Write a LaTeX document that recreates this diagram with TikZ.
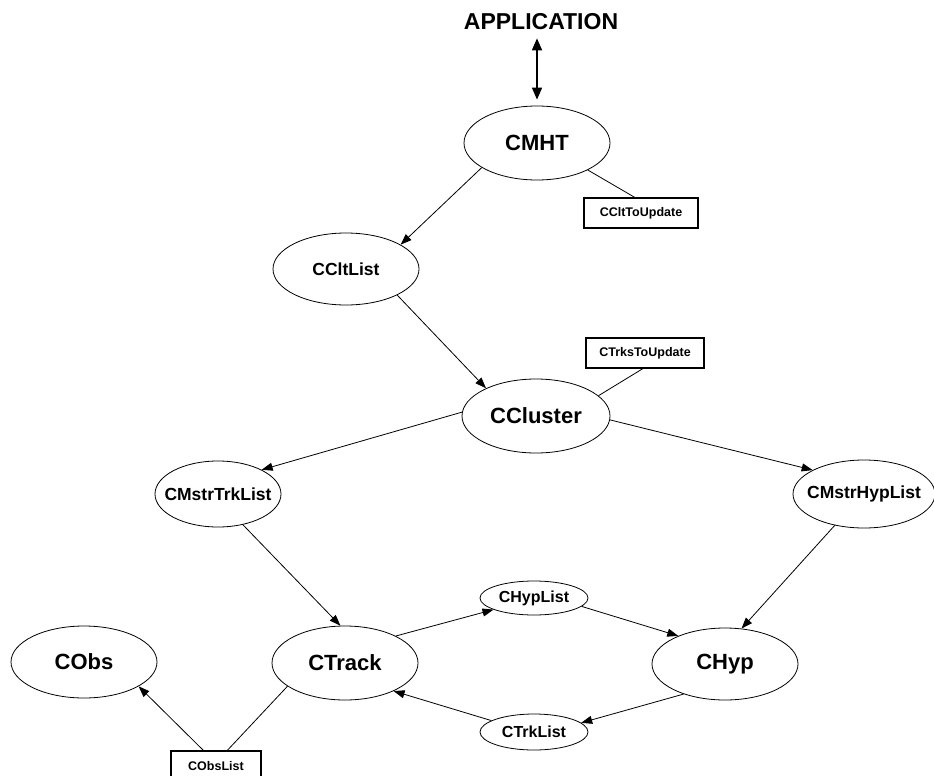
\documentclass[tikz,border=0pt]{standalone}
\usepackage{fontspec}
\setmainfont{Liberation Sans}
\usetikzlibrary{shapes.geometric,arrows.meta}
\tikzset{
  ell/.style={ellipse,draw,line width=0.8pt,inner sep=0pt,font=\bfseries},
  big/.style={ell,minimum width=146pt,minimum height=74pt,font=\bfseries\fontsize{22}{26}\selectfont},
  mid/.style={ell,font=\bfseries\fontsize{17.5}{21}\selectfont},
  small/.style={ell,minimum width=108pt,minimum height=34pt,font=\bfseries\fontsize{16}{20}\selectfont},
  tag/.style={draw,line width=1.3pt,inner sep=0pt,minimum height=30pt,font=\bfseries\fontsize{12.5}{15}\selectfont},
  conn/.style={line width=0.8pt},
  arr/.style={conn,-{Triangle[length=11pt,width=8pt]}}
}
\begin{document}
\begin{tikzpicture}[x=1pt,y=-1pt]
\useasboundingbox (0,0) rectangle (934,776);
\node[inner sep=0pt,font=\bfseries\fontsize{23}{27}\selectfont] (APP) at (541,22) {APPLICATION};
\node[big] (CMHT) at (537,143) {CMHT};
\node[tag,minimum width=114pt] (CCltToUpdate) at (641,213) {CCltToUpdate};
\node[mid,minimum width=146pt,minimum height=72pt] (CCltList) at (346,269) {CCltList};
\node[tag,minimum width=118pt] (CTrksToUpdate) at (645,353) {CTrksToUpdate};
\node[big,minimum width=148pt] (CCluster) at (536,416) {CCluster};
\node[mid,minimum width=126pt,minimum height=66pt] (CMstrTrkList) at (218,494) {\makebox[0pt]{CMstrTrkList}};
\node[mid,minimum width=142pt,minimum height=68pt] (CMstrHypList) at (864,494) {\makebox[0pt]{CMstrHypList}};
\node[small] (CHypList) at (534,598) {CHypList};
\node[big] (CTrack) at (345,663) {CTrack};
\node[big,minimum height=72pt] (CHyp) at (725,664) {CHyp};
\node[small,minimum height=36pt] (CTrkList) at (534,732) {CTrkList};
\node[big,minimum height=72pt] (CObs) at (84,662) {CObs};
\node[tag,minimum width=90pt] (CObsList) at (216,766) {CObsList};

\draw[line width=1.6pt,{Triangle[length=12pt,width=10pt]}-{Triangle[length=12pt,width=10pt]}]
  ([yshift=-8pt]CMHT.north |- APP.south) -- ([yshift=6pt]CMHT.north);
\draw[arr] (CMHT.204) -- (CCltList.24);
\draw[conn] (CMHT.332) -- (CCltToUpdate.112);
\draw[arr] (CCltList.333) -- (CCluster.151);
\draw[conn] (CTrksToUpdate.262) -- (CCluster.18);
\draw[arr] (CCluster.177) -- (CMstrTrkList.29);
\draw[arr] (CCluster.357) -- (CMstrHypList.155);
\draw[arr] (CMstrTrkList.309) -- (CTrack.97);
\draw[arr] (CMstrHypList.227) -- (CHyp.65);
\draw[arr] (CTrack.28) -- (CHypList.196);
\draw[arr] (CHypList.350) -- (CHyp.149);
\draw[arr] (CHyp.216) -- (CTrkList.11);
\draw[arr] (CTrkList.165) -- (CTrack.330);
\draw[arr] (CObsList.129) -- (CObs.336);
\draw[conn] (CTrack.202) -- (CObsList.54);
\end{tikzpicture}
\end{document}
